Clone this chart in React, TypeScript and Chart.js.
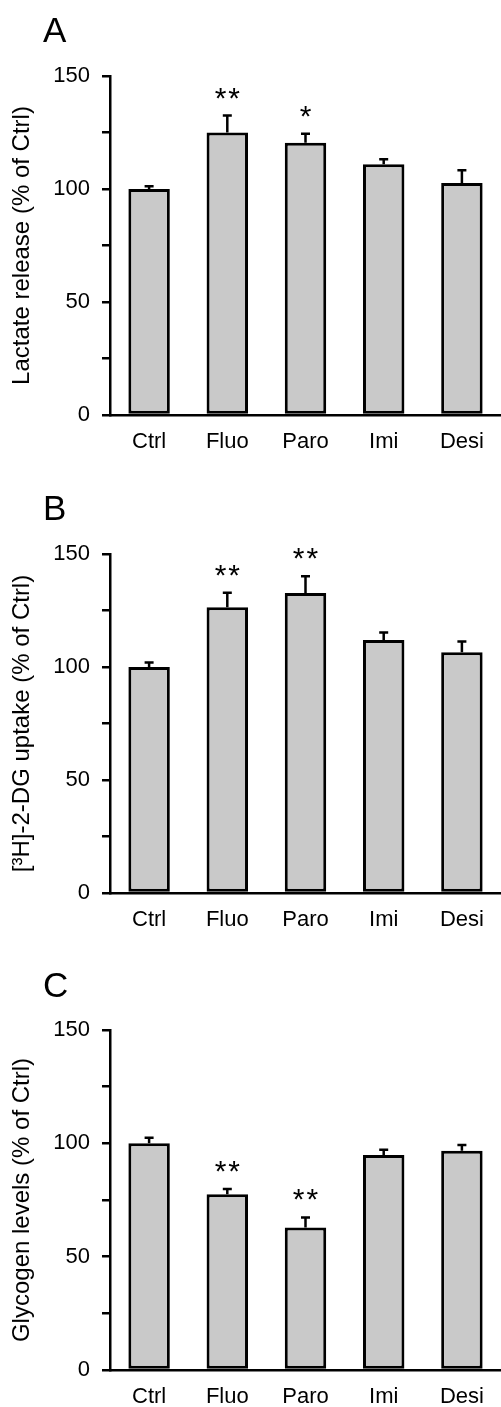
import React, { useEffect, useRef } from "react";
import { Chart, registerables } from "chart.js";

Chart.register(...registerables);

const categories = ["Ctrl", "Fluo", "Paro", "Imi", "Desi"];

const lactateMeans = [100, 125, 120.5, 111, 102.7];
const lactateErrors = [1.2, 7.5, 4, 2.2, 5.6];
const lactateSig = ["", "**", "*", "", ""];

const uptakeMeans = [100, 126.4, 132.7, 111.9, 106.5];
const uptakeErrors = [2, 6.4, 7.4, 3.4, 4.8];
const uptakeSig = ["", "**", "**", "", ""];

const glycogenMeans = [100, 77.5, 62.9, 94.8, 96.7];
const glycogenErrors = [2.5, 2.3, 4.4, 2.4, 2.6];
const glycogenSig = ["", "**", "**", "", ""];

const yMin = 0;
const yMax = 150;
const yStep = 25;
const yLabelStep = 50;

const FONT = "'Liberation Sans', Arial, Helvetica, sans-serif";

type PanelProps = {
  letter: string;
  title: string;
  means: number[];
  errors: number[];
  sig: string[];
  top: number;
  height: number;
  chartTop: number;
  chartBottom: number;
  letterBaseline: number;
};

function Panel(p: PanelProps) {
  const ref = useRef<HTMLCanvasElement | null>(null);
  useEffect(() => {
    if (!ref.current) return;
    const overlay = {
      id: "overlay" + p.letter,
      afterDatasetsDraw(chart: any) {
        const ctx = chart.ctx;
        const meta = chart.getDatasetMeta(0);
        const yScale = chart.scales.y;
        ctx.save();
        ctx.strokeStyle = "#000";
        ctx.lineWidth = 2.5;
        p.means.forEach((m, i) => {
          const bar = meta.data[i];
          const x = bar.x;
          const yBase = yScale.getPixelForValue(m);
          const yTop = yScale.getPixelForValue(m + p.errors[i]);
          ctx.beginPath();
          ctx.moveTo(x, yBase);
          ctx.lineTo(x, yTop);
          ctx.moveTo(x - 4.5, yTop);
          ctx.lineTo(x + 4.5, yTop);
          ctx.stroke();
          if (p.sig[i]) {
            ctx.fillStyle = "#000";
            ctx.font = "30px " + FONT;
            ctx.textAlign = "center";
            ctx.textBaseline = "alphabetic";
            try {
              (ctx as any).letterSpacing = "2px";
            } catch (e) {}
            ctx.fillText(p.sig[i], x + 1, yTop - 25 + 17);
            try {
              (ctx as any).letterSpacing = "0px";
            } catch (e) {}
          }
        });
        ctx.restore();
      },
      afterDraw(chart: any) {
        const ctx = chart.ctx;
        ctx.save();
        ctx.fillStyle = "#000";
        ctx.font = "35px " + FONT;
        ctx.textAlign = "left";
        ctx.textBaseline = "alphabetic";
        ctx.fillText(p.letter, 43, p.letterBaseline);
        ctx.restore();
      },
    };
    const xAxisHeight = p.height - p.chartBottom;
    const chart = new Chart(ref.current, {
      type: "bar",
      data: {
        labels: categories,
        datasets: [
          {
            data: p.means,
            backgroundColor: "#c9c9c9",
            borderColor: "#000",
            borderWidth: 3,
            borderSkipped: false,
            barPercentage: 0.53,
            categoryPercentage: 1,
          },
        ],
      },
      options: {
        responsive: false,
        animation: false,
        devicePixelRatio: 1,
        layout: {
          padding: { left: 0, right: 0, top: p.chartTop, bottom: 0 },
        },
        plugins: {
          legend: { display: false },
          tooltip: { enabled: false },
          title: { display: false },
        },
        scales: {
          x: {
            grid: { display: false, drawTicks: false },
            border: { display: true, color: "#000", width: 2.5 },
            ticks: { color: "#000", font: { size: 22, family: FONT }, padding: 14 },
            afterFit: (s: any) => {
              s.height = xAxisHeight;
            },
          },
          y: {
            min: yMin,
            max: yMax,
            ticks: {
              stepSize: yStep,
              color: "#000",
              font: { size: 22, family: FONT },
              padding: 12,
              callback: (v: any) => (Number(v) % yLabelStep === 0 ? String(v) : ""),
            },
            grid: {
              drawOnChartArea: false,
              drawTicks: true,
              tickLength: 8,
              color: "#000",
              lineWidth: 2.5,
            },
            border: { display: true, color: "#000", width: 2.5 },
            title: {
              display: true,
              text: p.title,
              color: "#000",
              font: { size: 24, family: FONT },
              padding: { top: 8, bottom: 0 },
            },
            afterFit: (s: any) => {
              s.width = 110;
            },
          },
        },
      },
      plugins: [overlay],
    });
    return () => chart.destroy();
  }, []);
  return (
    <canvas
      ref={ref}
      width={501}
      height={p.height}
      style={{ position: "absolute", left: 0, top: p.top, width: 501, height: p.height }}
    />
  );
}

export default function App() {
  return (
    <div style={{ position: "absolute", left: 0, top: 0, width: 501, height: 1407, background: "#fff", overflow: "hidden" }}>
      <Panel
        letter="A"
        title="Lactate release (% of Ctrl)"
        means={lactateMeans}
        errors={lactateErrors}
        sig={lactateSig}
        top={0}
        height={470}
        chartTop={76}
        chartBottom={415}
        letterBaseline={42}
      />
      <Panel
        letter="B"
        title="[³H]-2-DG uptake (% of Ctrl)"
        means={uptakeMeans}
        errors={uptakeErrors}
        sig={uptakeSig}
        top={470}
        height={460}
        chartTop={84}
        chartBottom={423}
        letterBaseline={50}
      />
      <Panel
        letter="C"
        title="Glycogen levels (% of Ctrl)"
        means={glycogenMeans}
        errors={glycogenErrors}
        sig={glycogenSig}
        top={930}
        height={477}
        chartTop={100}
        chartBottom={440}
        letterBaseline={67}
      />
    </div>
  );
}
